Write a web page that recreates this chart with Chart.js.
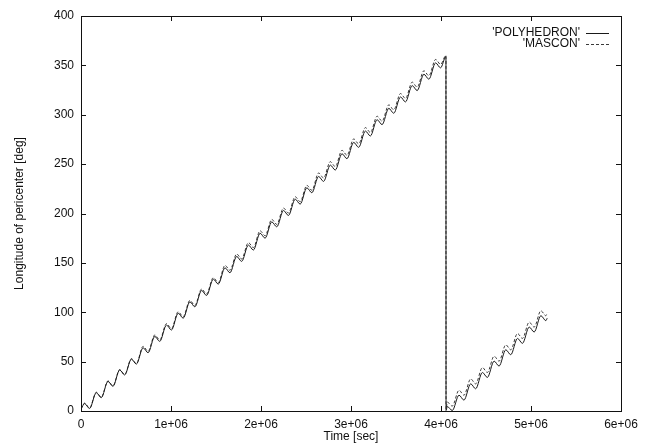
<!DOCTYPE html>
<html>
<head>
<meta charset="utf-8">
<title>Longitude of pericenter</title>
<script src="https://cdn.jsdelivr.net/npm/chart.js@4"></script>
<style>
  html, body { margin: 0; padding: 0; background: #fff; }
  #wrap { width: 650px; height: 443px; position: relative; }
</style>
</head>
<body>
<div id="wrap"><canvas id="chart"></canvas></div>
<script>
// sample times (sec) at the crests / dips of each wiggle
const timeSec = [
  0, 0.04e6, 0.095e6, 0.17e6, 0.225e6, 0.3e6, 0.355e6, 0.43e6, 0.485e6, 0.56e6, 0.615e6,
  0.69e6, 0.745e6, 0.82e6, 0.875e6, 0.95e6, 1.005e6, 1.08e6, 1.135e6, 1.21e6, 1.265e6,
  1.34e6, 1.395e6, 1.47e6, 1.525e6, 1.6e6, 1.655e6, 1.73e6, 1.785e6, 1.86e6, 1.915e6,
  1.99e6, 2.045e6, 2.12e6, 2.175e6, 2.25e6, 2.305e6, 2.38e6, 2.435e6, 2.51e6, 2.565e6,
  2.64e6, 2.695e6, 2.77e6, 2.825e6, 2.9e6, 2.955e6, 3.03e6, 3.085e6, 3.16e6, 3.215e6,
  3.29e6, 3.345e6, 3.42e6, 3.475e6, 3.55e6, 3.605e6, 3.68e6, 3.735e6, 3.81e6, 3.865e6,
  3.94e6, 3.995e6, 4.055e6, 4.056e6, 4.07e6, 4.125e6, 4.2e6, 4.255e6, 4.33e6, 4.385e6,
  4.46e6, 4.515e6, 4.59e6, 4.645e6, 4.72e6, 4.775e6, 4.85e6, 4.905e6, 4.98e6, 5.035e6,
  5.11e6, 5.165e6, 5.18e6
];

// longitude of pericenter [deg]
const polyhedronDeg = [
  2, 7.5, 2.5, 18.5, 13.5, 30, 25, 41.5, 36.5, 52.5, 47.5,
  64, 59, 75.5, 70.5, 87, 82, 99, 94, 110.5, 105.5,
  122, 117, 133.5, 128.5, 145, 140, 156.5, 151.5, 168, 163,
  180, 175, 191.5, 186.5, 203, 198, 214.5, 209.5, 226, 221,
  237.5, 232.5, 249, 244, 260.5, 255.5, 272, 267, 283.5, 278.5,
  295, 290, 306.5, 301.5, 318, 313, 329.5, 324.5, 341, 336,
  352.5, 347.5, 359, 0.5, 4.5, 0.5, 16, 11, 27.5, 22.5,
  39, 34, 50.5, 45.5, 62, 57, 73.5, 68.5, 85, 80,
  96.5, 91.5, 94
];

const masconDeg = [
  2, 8, 3, 19, 14, 30.5, 25.5, 42, 37, 53, 48,
  65.5, 60.5, 77, 72, 88.5, 83.5, 100.5, 95.5, 112, 107,
  123.5, 118.5, 135, 130, 147.5, 142.5, 159, 154, 170.5, 165.5,
  182.5, 177.5, 194, 189, 205.5, 200.5, 217, 212, 228.5, 223.5,
  241, 236, 252.5, 247.5, 264, 259, 275.5, 270.5, 287, 282,
  298.5, 293.5, 310, 305, 321.5, 316.5, 333, 328, 344.5, 339.5,
  356, 351, 360, 2, 9, 5, 21, 16, 32.5, 27.5,
  44, 39, 55.5, 50.5, 67, 62, 78.5, 73.5, 90, 85,
  101.5, 96.5, 99
];

const seriesNames = ["'POLYHEDRON'", "'MASCON'"];
const yTicks = [0, 400, 50];       // min, max, step
const xTicks = [0, 6e6, 1e6];

const FONT = '"Liberation Sans", Arial, Helvetica, sans-serif';
const INK = '#111';

function toPoints(ys) {
  return timeSec.map((t, i) => ({ x: t, y: ys[i] }));
}

// gnuplot look: closed frame with short inward ticks on every side
const framePlugin = {
  id: 'frame',
  afterDraw(chart) {
    const { ctx, chartArea: a, scales } = chart;
    ctx.save();
    ctx.strokeStyle = INK;
    ctx.lineWidth = 1;
    ctx.setLineDash([]);
    ctx.strokeRect(Math.round(a.left) + 0.5, Math.round(a.top) + 0.5,
      Math.round(a.right - a.left), Math.round(a.bottom - a.top));
    ctx.beginPath();
    scales.x.ticks.forEach(t => {
      const px = Math.round(scales.x.getPixelForValue(t.value)) + 0.5;
      ctx.moveTo(px, a.bottom); ctx.lineTo(px, a.bottom - 5);
      ctx.moveTo(px, a.top); ctx.lineTo(px, a.top + 5);
    });
    scales.y.ticks.forEach(t => {
      const py = Math.round(scales.y.getPixelForValue(t.value)) + 0.5;
      ctx.moveTo(a.left, py); ctx.lineTo(a.left + 5, py);
      ctx.moveTo(a.right, py); ctx.lineTo(a.right - 5, py);
    });
    ctx.stroke();
    ctx.restore();
  }
};

// key in the top right corner, text first then the line sample
const keyPlugin = {
  id: 'key',
  afterDraw(chart) {
    const { ctx, chartArea: a } = chart;
    ctx.save();
    ctx.font = '12px ' + FONT;
    ctx.textAlign = 'right';
    ctx.textBaseline = 'middle';
    chart.data.datasets.forEach((ds, i) => {
      const yy = Math.round(a.top + 17 + i * 10.5);
      ctx.fillStyle = INK;
      ctx.fillText(ds.label, a.right - 41, yy);
      ctx.strokeStyle = ds.borderColor;
      ctx.lineWidth = 1;
      ctx.setLineDash(ds.borderDash || []);
      ctx.beginPath();
      ctx.moveTo(a.right - 35, yy + 0.5);
      ctx.lineTo(a.right - 12, yy + 0.5);
      ctx.stroke();
    });
    ctx.restore();
  }
};

const ctx = document.getElementById('chart').getContext('2d');

new Chart(ctx, {
  type: 'line',
  data: {
    datasets: [
      {
        label: seriesNames[0],
        data: toPoints(polyhedronDeg),
        borderColor: '#1a1a1a',
        borderWidth: 1,
        pointRadius: 0,
        fill: false,
        cubicInterpolationMode: 'monotone'
      },
      {
        label: seriesNames[1],
        data: toPoints(masconDeg),
        borderColor: '#3a3a3a',
        borderWidth: 1,
        borderDash: [3, 2],
        pointRadius: 0,
        fill: false,
        cubicInterpolationMode: 'monotone'
      }
    ]
  },
  options: {
    responsive: true,
    maintainAspectRatio: false,
    animation: false,
    layout: { padding: { left: 0, right: 29, top: 16, bottom: 0 } },
    plugins: {
      legend: { display: false },
      tooltip: { enabled: false }
    },
    scales: {
      x: {
        type: 'linear',
        min: xTicks[0],
        max: xTicks[1],
        afterFit(s) { s.height = 32; },
        grid: { display: false, drawTicks: false },
        border: { display: false },
        ticks: {
          stepSize: xTicks[2],
          padding: 6,
          maxRotation: 0,
          color: INK,
          font: { family: FONT, size: 12 },
          callback: v => v === 0 ? '0' : (v / 1e6) + 'e+06'
        },
        title: {
          display: true,
          text: 'Time [sec]',
          color: INK,
          font: { family: FONT, size: 12, lineHeight: 1 },
          padding: 0
        }
      },
      y: {
        type: 'linear',
        min: yTicks[0],
        max: yTicks[1],
        afterFit(s) { s.width = 81; },
        grid: { display: false, drawTicks: false },
        border: { display: false },
        ticks: {
          stepSize: yTicks[2],
          padding: 7,
          color: INK,
          font: { family: FONT, size: 12 }
        },
        title: {
          display: true,
          text: 'Longitude of pericenter [deg]',
          color: INK,
          font: { family: FONT, size: 12, lineHeight: 1 },
          padding: { top: 14, bottom: 0 }
        }
      }
    }
  },
  plugins: [framePlugin, keyPlugin]
});
</script>
</body>
</html>
